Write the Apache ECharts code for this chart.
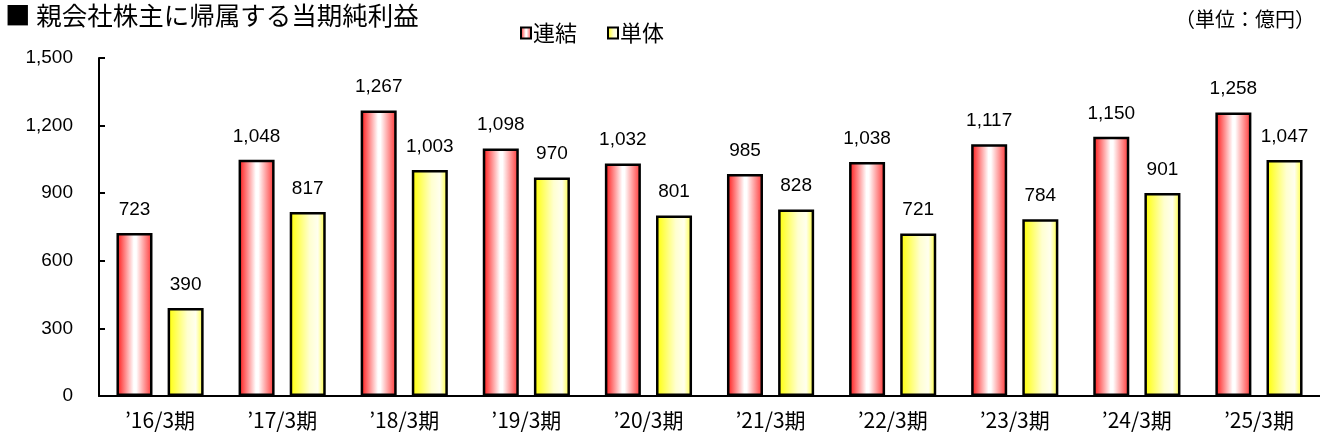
<!DOCTYPE html>
<html><head><meta charset="utf-8">
<script src="https://cdn.jsdelivr.net/npm/echarts@6/dist/echarts.min.js"></script>
<style>html,body{margin:0;padding:0;background:#fff}#c{width:1320px;height:436px}</style>
</head><body><div id="c"></div>
<script>
const categories = ["’16/3期","’17/3期","’18/3期","’19/3期","’20/3期","’21/3期","’22/3期","’23/3期","’24/3期","’25/3期"];
const consolidated = [723,1048,1267,1098,1032,985,1038,1117,1150,1258];
const standalone = [390,817,1003,970,801,828,721,784,901,1047];
const yTicks = [0,300,600,900,1200,1500];

const redGrad = new echarts.graphic.LinearGradient(0,0,1,0,[
  {offset:0,color:'#ff1010'},{offset:0.48,color:'#ffffff'},{offset:0.55,color:'#ffffff'},{offset:1,color:'#ff3030'}]);
const yelGrad = new echarts.graphic.LinearGradient(0,0,1,0,[
  {offset:0,color:'#ffff00'},{offset:0.55,color:'#ffffd0'},{offset:0.78,color:'#ffffee'},{offset:1,color:'#ffff30'}]);

const numFont = 'Liberation Sans, Arial, sans-serif';
const jpFont = '"Noto Sans CJK JP", sans-serif';
const fmt = v => v.toLocaleString('en-US');

const chart = echarts.init(document.getElementById('c'));
chart.setOption({
  animation:false,
  title:[
    {text:'■ 親会社株主に帰属する当期純利益',left:0,top:-2,textStyle:{fontFamily:jpFont,fontSize:25.5,fontWeight:'normal',color:'#000'}},
    {text:'（単位：億円）',right:0,top:4,textStyle:{fontFamily:jpFont,fontSize:20,fontWeight:'normal',color:'#000'}}
  ],
  legend:{
    left:515,top:17,itemWidth:10,itemHeight:11,itemGap:30,icon:'rect',
    itemStyle:{borderColor:'#000',borderWidth:2},
    textStyle:{fontFamily:jpFont,fontSize:22,color:'#000',padding:[0,0,0,-3]},
    data:['連結','単体']
  },
  grid:{left:99,right:0,top:58,bottom:40},
  xAxis:{
    type:'category',data:categories,
    axisLine:{lineStyle:{color:'#000',width:2}},
    axisTick:{inside:true,length:6,lineStyle:{color:'#000',width:2}},
    axisLabel:{fontFamily:jpFont,fontSize:21,color:'#000',margin:14}
  },
  yAxis:{
    type:'value',min:yTicks[0],max:yTicks[yTicks.length-1],interval:300,
    axisLine:{show:true,lineStyle:{color:'#000',width:2}},
    axisTick:{show:true,inside:true,length:6,lineStyle:{color:'#000',width:2}},
    splitLine:{show:false},
    axisLabel:{fontFamily:numFont,fontSize:19,color:'#000',margin:26,formatter:v=>fmt(v)}
  },
  series:[
    {name:'連結',type:'bar',data:consolidated,barWidth:'29.5%',barGap:'42%',
      itemStyle:{color:redGrad,borderColor:'#000',borderWidth:2.5},
      label:{show:true,position:'top',distance:14,fontFamily:numFont,fontSize:19,color:'#000',formatter:p=>fmt(p.value)}},
    {name:'単体',type:'bar',data:standalone,barWidth:'29.5%',barGap:'42%',
      itemStyle:{color:yelGrad,borderColor:'#000',borderWidth:2.5},
      label:{show:true,position:'top',distance:14,fontFamily:numFont,fontSize:19,color:'#000',formatter:p=>fmt(p.value)}}
  ]
});
</script></body></html>
